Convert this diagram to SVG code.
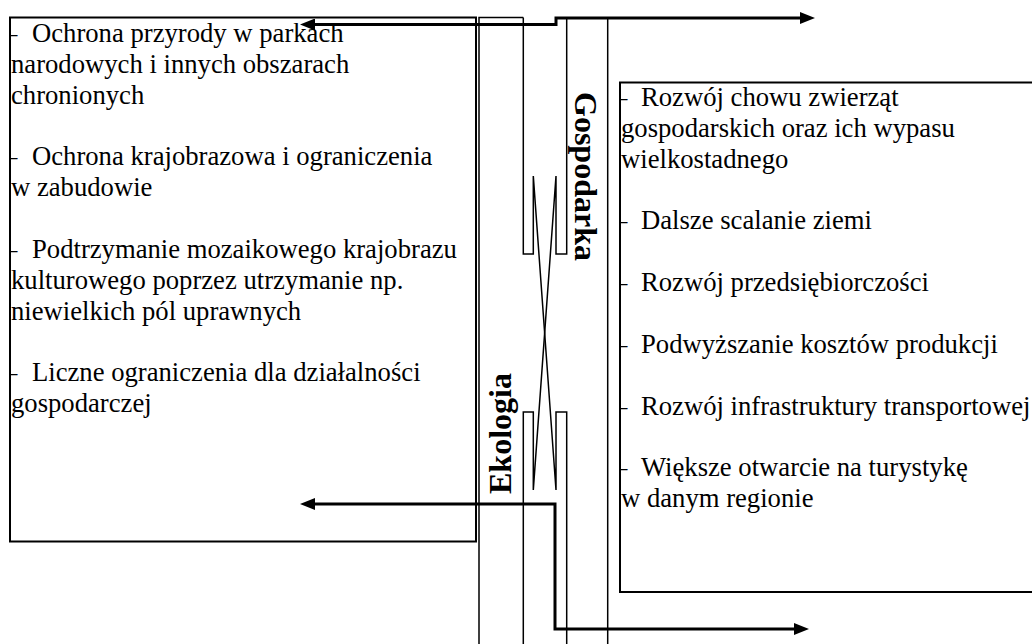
<svg xmlns="http://www.w3.org/2000/svg" width="1032" height="644" viewBox="0 0 1032 644">
  <style>
    .box { fill: none; stroke: #000; stroke-width: 2; }
    .col { fill: none; stroke: #000; stroke-width: 1.5; stroke-linejoin: miter; }
    .conn { fill: none; stroke: #000; stroke-width: 3; stroke-linejoin: miter; }
    .t { font-family: "Liberation Serif", "Times New Roman", serif; font-size: 26.67px; fill: #000; }
    .lbl { font-family: "Liberation Serif", "Times New Roman", serif; font-size: 32px; font-weight: bold; fill: #000; }
  </style>
  <defs>
    <marker id="arr" viewBox="0 0 15 12" markerWidth="15" markerHeight="12" refX="3" refY="6" orient="auto-start-reverse" markerUnits="userSpaceOnUse">
      <path d="M0,0 L15,6 L0,12 z" fill="#000"/>
    </marker>
    <clipPath id="clipL"><rect x="10" y="17.5" width="466" height="524"/></clipPath>
    <clipPath id="clipR"><rect x="620" y="82.5" width="420" height="510"/></clipPath>
  </defs>

  <g id="ekologia-box">
    <rect class="box" x="10" y="17.5" width="466" height="524"/>
    <g class="t" clip-path="url(#clipL)">
      <text x="4" y="42">– <tspan x="32">Ochrona przyrody w parkach</tspan></text>
      <text x="11" y="72.85">narodowych i innych obszarach</text>
      <text x="11" y="103.7">chronionych</text>
      <text x="4" y="165.4">– <tspan x="32">Ochrona krajobrazowa i ograniczenia</tspan></text>
      <text x="11" y="196.25">w zabudowie</text>
      <text x="4" y="257.95">– <tspan x="32">Podtrzymanie mozaikowego krajobrazu</tspan></text>
      <text x="11" y="288.8">kulturowego poprzez utrzymanie np.</text>
      <text x="11" y="319.65">niewielkich pól uprawnych</text>
      <text x="4" y="381.35">– <tspan x="32">Liczne ograniczenia dla działalności</tspan></text>
      <text x="11" y="412.2">gospodarczej</text>
    </g>
  </g>

  <g id="gospodarka-box">
    <rect class="box" x="620" y="82.5" width="430" height="509.5"/>
    <g class="t" clip-path="url(#clipR)">
      <text x="614" y="106">– <tspan x="641">Rozwój chowu zwierząt</tspan></text>
      <text x="621" y="136.85">gospodarskich oraz ich wypasu</text>
      <text x="621" y="167.7">wielkostadnego</text>
      <text x="614" y="229.4">– <tspan x="641">Dalsze scalanie ziemi</tspan></text>
      <text x="614" y="291.1">– <tspan x="641">Rozwój przedsiębiorczości</tspan></text>
      <text x="614" y="352.8">– <tspan x="641">Podwyższanie kosztów produkcji</tspan></text>
      <text x="614" y="414.5">– <tspan x="641">Rozwój infrastruktury transportowej</tspan></text>
      <text x="614" y="476.2">– <tspan x="641">Większe otwarcie na turystykę</tspan></text>
      <text x="621" y="507.05">w danym regionie</text>
    </g>
  </g>

  <g id="central-column">
    <path class="col" d="M479,644 V17.5 H523.3"/>
    <path class="col" d="M607.7,18 V644"/>
    <path class="col" d="M523.3,17.5 V254 H533.3 V176 L556,490 V412 H566.7 V644"/>
    <path class="col" d="M566.7,18 V254 H556 V176 L533.3,490 V412 H523.3 V644"/>
  </g>

  <g id="label-gospodarka">
    <text class="lbl" transform="translate(575,92) rotate(90)">Gospodarka</text>
  </g>
  <g id="label-ekologia">
    <text class="lbl" transform="translate(511,494) rotate(-90)">Ekologia</text>
  </g>

  <g id="connectors">
    <path class="conn" d="M312,24.5 H556 V18 H803" marker-start="url(#arr)" marker-end="url(#arr)"/>
    <path class="conn" d="M312,504 H555 V629 H797" marker-start="url(#arr)" marker-end="url(#arr)"/>
  </g>
</svg>
